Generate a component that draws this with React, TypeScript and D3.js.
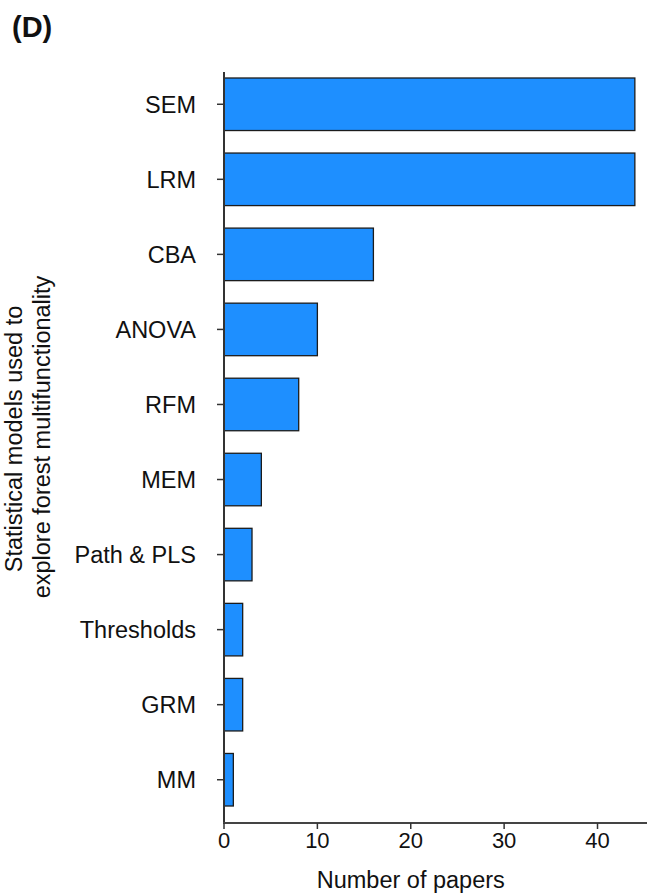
import React from "react";
import * as d3 from "d3";

const categories = ["SEM", "LRM", "CBA", "ANOVA", "RFM", "MEM", "Path & PLS", "Thresholds", "GRM", "MM"];
const paperCounts = [44, 44, 16, 10, 8, 4, 3, 2, 2, 1];
const xTickValues = [0, 10, 20, 30, 40];

const W = 650;
const H = 895;
const FONT = "Liberation Sans, Arial, Helvetica, sans-serif";

export default function App() {
  const x = d3.scaleLinear().domain([0, 45.3]).range([224, 647]);
  const y = d3.scaleBand<string>().domain(categories).range([78, 806]).paddingInner(0.3).paddingOuter(0);
  const axisY = 823;
  const axisTop = 72;

  return (
    <svg width={W} height={H} style={{ position: "absolute", left: 0, top: 0, background: "#fff" }} fontFamily={FONT}>
      <text x={12} y={37} fontSize={29} fontWeight="bold" fill="#111">(D)</text>

      {/* bars */}
      {categories.map((c, i) => (
        <rect
          key={c}
          x={x(0)}
          y={y(c)!}
          width={x(paperCounts[i]) - x(0)}
          height={y.bandwidth()}
          fill="#1E8FFF"
          stroke="#1c1c1c"
          strokeWidth={1.3}
        />
      ))}

      {/* y axis */}
      <line x1={x(0)} x2={x(0)} y1={axisTop} y2={axisY} stroke="#333" strokeWidth={2} />
      {categories.map((c) => {
        const cy = y(c)! + y.bandwidth() / 2;
        return (
          <g key={c}>
            <line x1={x(0) - 7} x2={x(0)} y1={cy} y2={cy} stroke="#333" strokeWidth={1.5} />
            <text x={196} y={cy} dy="0.36em" textAnchor="end" fontSize={23.5} fill="#111">{c}</text>
          </g>
        );
      })}

      {/* x axis */}
      <line x1={x(0) - 1} x2={x.range()[1]} y1={axisY} y2={axisY} stroke="#444" strokeWidth={2} />
      {xTickValues.map((t) => (
        <g key={t}>
          <line x1={x(t)} x2={x(t)} y1={axisY} y2={axisY + 6} stroke="#333" strokeWidth={1.5} />
          <text x={x(t)} y={848} textAnchor="middle" fontSize={22} fill="#111">{t}</text>
        </g>
      ))}
      <text x={x(20)} y={888} textAnchor="middle" fontSize={23.5} fill="#111">Number of papers</text>

      {/* y axis title */}
      <text transform="translate(22,439) rotate(-90)" textAnchor="middle" fontSize={23.5} fill="#111">Statistical models used to</text>
      <text transform="translate(50,437) rotate(-90)" textAnchor="middle" fontSize={23.5} fill="#111">explore forest multifunctionality</text>
    </svg>
  );
}
